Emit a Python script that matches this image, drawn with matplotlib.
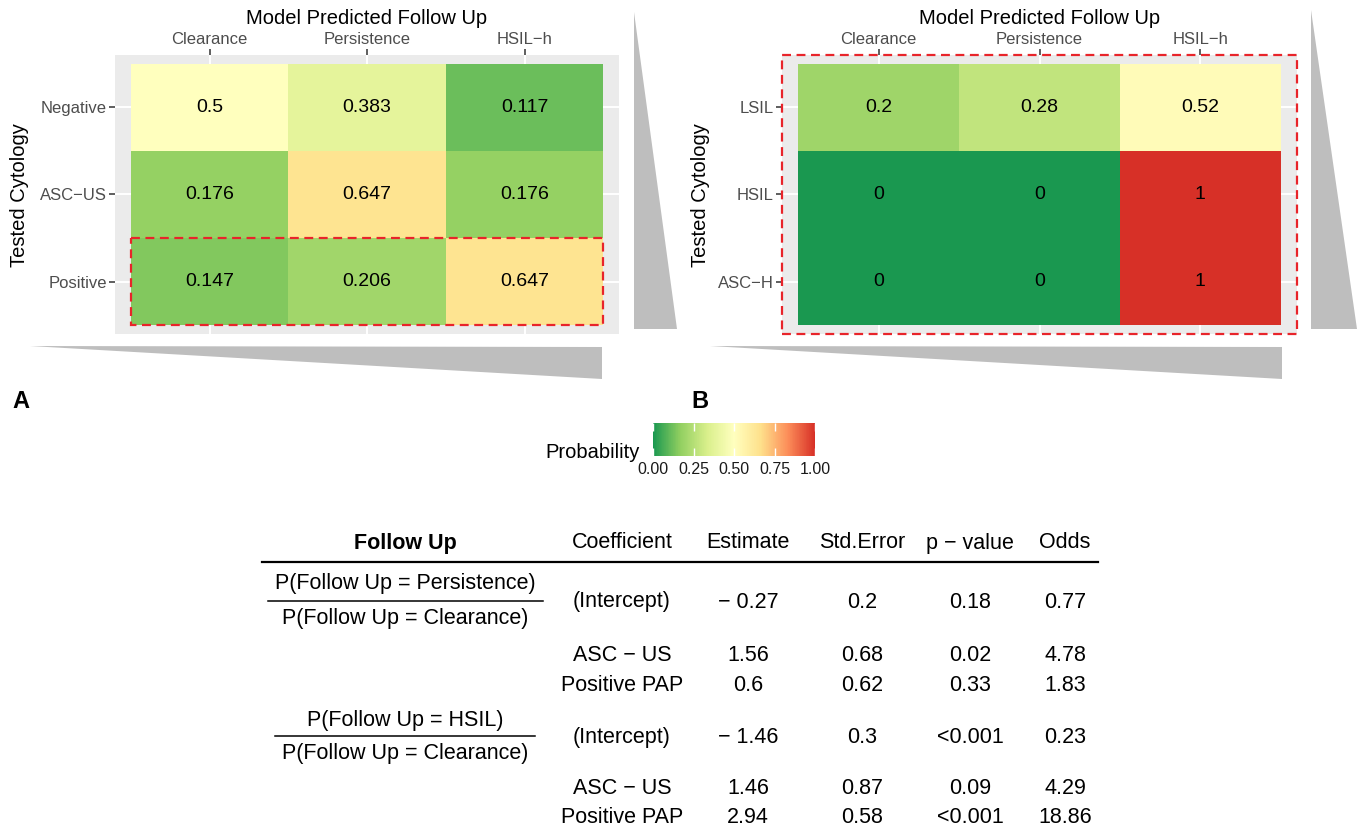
import numpy as np
import matplotlib
matplotlib.use("Agg")
import matplotlib.pyplot as plt
from matplotlib.colors import LinearSegmentedColormap
from matplotlib.patches import Polygon, Rectangle

plt.rcParams['font.family'] = ['Liberation Sans', 'DejaVu Sans']

# --- data -----------------------------------------------------------
follow_up = ["Clearance", "Persistence", "HSIL\u2212h"]

cyto_a = ["Negative", "ASC\u2212US", "Positive"]
prob_a = [[0.5, 0.383, 0.117],
          [0.176, 0.647, 0.176],
          [0.147, 0.206, 0.647]]

cyto_b = ["LSIL", "HSIL", "ASC\u2212H"]
prob_b = [[0.2, 0.28, 0.52],
          [0, 0, 1],
          [0, 0, 1]]

legend_breaks = [0, 0.25, 0.5, 0.75, 1]

# regression table
headers = ["Coefficient", "Estimate", "Std.Error", "p \u2212 value", "Odds"]
ratio_num = ["P(Follow Up = Persistence)", "P(Follow Up = HSIL)"]
ratio_den = ["P(Follow Up = Clearance)", "P(Follow Up = Clearance)"]
coefs = ["(Intercept)", "ASC \u2212 US", "Positive PAP",
         "(Intercept)", "ASC \u2212 US", "Positive PAP"]
estimate = [-0.27, 1.56, 0.6, -1.46, 1.46, 2.94]
std_err = [0.2, 0.68, 0.62, 0.3, 0.87, 0.58]
p_value = ["0.18", "0.02", "0.33", "<0.001", "0.09", "<0.001"]
odds = [0.77, 4.78, 1.83, 0.23, 4.29, 18.86]

# --- figure ---------------------------------------------------------
W, H = 1359, 830
fig = plt.figure(figsize=(W / 100, H / 100), dpi=100)

# brewer RdYlGn (7 class), reversed: green -> red
cmap = LinearSegmentedColormap.from_list(
    "rdylgn_r", ["#1a9850", "#91cf60", "#d9ef8b", "#ffffbf",
                 "#fee08b", "#fc8d59", "#d73027"])


def fx(x):
    return x / W


def fy(y):
    return 1 - y / H


def add_ax(x0, y0, x1, y1):
    return fig.add_axes([fx(x0), fy(y1), (x1 - x0) / W, (y1 - y0) / H])


def heatmap(ax, vals, rows, cols):
    ax.set_facecolor("#EBEBEB")
    edges = np.arange(0.5, len(cols) + 1)
    mesh = ax.pcolormesh(edges, edges, np.array(vals), cmap=cmap, vmin=0, vmax=1,
                         zorder=1, antialiased=False, linewidth=0)
    ax.set_xlim(0.4, 3.6)
    ax.set_ylim(3.6, 0.4)
    ax.set_xticks([1, 2, 3])
    ax.set_xticklabels(cols)
    ax.set_yticks([1, 2, 3])
    ax.set_yticklabels(rows)
    ax.xaxis.tick_top()
    ax.tick_params(axis="both", length=4, width=1.1, color="#333333",
                   labelcolor="#4D4D4D", labelsize=12, pad=2)
    for s in ax.spines.values():
        s.set_visible(False)
    ax.set_axisbelow(True)
    ax.grid(color="white", linewidth=1.4)
    for i, row in enumerate(vals):
        for j, v in enumerate(row):
            ax.text(j + 1, i + 1, f"{v:g}", ha="center", va="center",
                    fontsize=14, color="black", zorder=3)
    return mesh


dash = (0, (4, 2.5))
red = "#E8242A"

# panel A
ax_a = add_ax(115, 55, 619, 334)
mesh = heatmap(ax_a, prob_a, cyto_a, follow_up)
ax_a.add_patch(Rectangle((0.5, 2.5), 3, 1, fill=False, edgecolor=red, lw=1.6,
                         linestyle=dash, zorder=4, clip_on=False))
fig.text(fx(367), fy(18), "Model Predicted Follow Up", ha="center", va="center", fontsize=14.5)
fig.text(fx(20), fy(195), "Tested Cytology", ha="center", va="center", rotation=90, fontsize=14.5)

# panel B
ax_b = add_ax(782, 55, 1297, 334)
heatmap(ax_b, prob_b, cyto_b, follow_up)
ax_b.add_patch(Rectangle((0, 0), 1, 1, transform=ax_b.transAxes, fill=False, edgecolor=red,
                         lw=1.6, linestyle=dash, zorder=4, clip_on=False))
fig.text(fx(1040), fy(18), "Model Predicted Follow Up", ha="center", va="center", fontsize=14.5)
fig.text(fx(700), fy(195), "Tested Cytology", ha="center", va="center", rotation=90, fontsize=14.5)

# grey wedges
wedges = [
    [(634, 12), (634, 329), (677, 329)],
    [(30, 346), (602, 347), (602, 379)],
    [(1311, 10), (1311, 329), (1357, 329)],
    [(710, 346), (1282, 347), (1282, 379)],
]
for w in wedges:
    fig.add_artist(Polygon([(fx(x), fy(y)) for x, y in w], closed=True,
                           transform=fig.transFigure, facecolor="#BEBEBE", edgecolor="none"))

fig.text(fx(21), fy(401), "A", ha="center", va="center", fontsize=17, fontweight="bold")
fig.text(fx(700), fy(401), "B", ha="center", va="center", fontsize=17, fontweight="bold")

# colour legend
cax = add_ax(653, 423, 815, 456)
cb = fig.colorbar(mesh, cax=cax, orientation="horizontal", ticks=legend_breaks)
cb.outline.set_visible(False)
cb.set_ticklabels([f"{b:.2f}" for b in legend_breaks])
cax.tick_params(direction="in", length=6, width=1, color="white", top=True, bottom=True,
                labelsize=11.5, labelcolor="#1A1A1A", pad=4)
fig.text(fx(640), fy(452), "Probability", ha="right", va="center", fontsize=14.5)

# regression table
col_x = [622, 748, 862, 970, 1065]
row_y = [602, 655, 685, 737, 788, 817]
fs = 15.5

fig.text(fx(405), fy(543), "Follow Up", ha="center", va="center", fontsize=fs, fontweight="bold")
for x, h in zip(col_x, headers):
    fig.text(fx(x), fy(543), h, ha="center", va="center", fontsize=fs)
fig.add_artist(plt.Line2D([fx(262), fx(1098)], [fy(562), fy(562)], color="black", lw=1.6))

frac_y = [(583, 601, 618), (720, 736, 754)]
frac_x = [(268, 543), (275, 535)]
for k in range(2):
    yn, yb, yd = frac_y[k]
    fig.text(fx(405), fy(yn), ratio_num[k], ha="center", va="center", fontsize=fs)
    fig.text(fx(405), fy(yd), ratio_den[k], ha="center", va="center", fontsize=fs)
    fig.add_artist(plt.Line2D([fx(frac_x[k][0]), fx(frac_x[k][1])], [fy(yb), fy(yb)],
                              color="black", lw=1.1))


def fmt(v):
    s = f"{abs(v):g}"
    return "\u2212 " + s if v < 0 else s


for i, y in enumerate(row_y):
    cells = [coefs[i], fmt(estimate[i]), f"{std_err[i]:g}", p_value[i], f"{odds[i]:g}"]
    for x, c in zip(col_x, cells):
        fig.text(fx(x), fy(y), c, ha="center", va="center", fontsize=fs)

fig.savefig("out.png", dpi=100)
